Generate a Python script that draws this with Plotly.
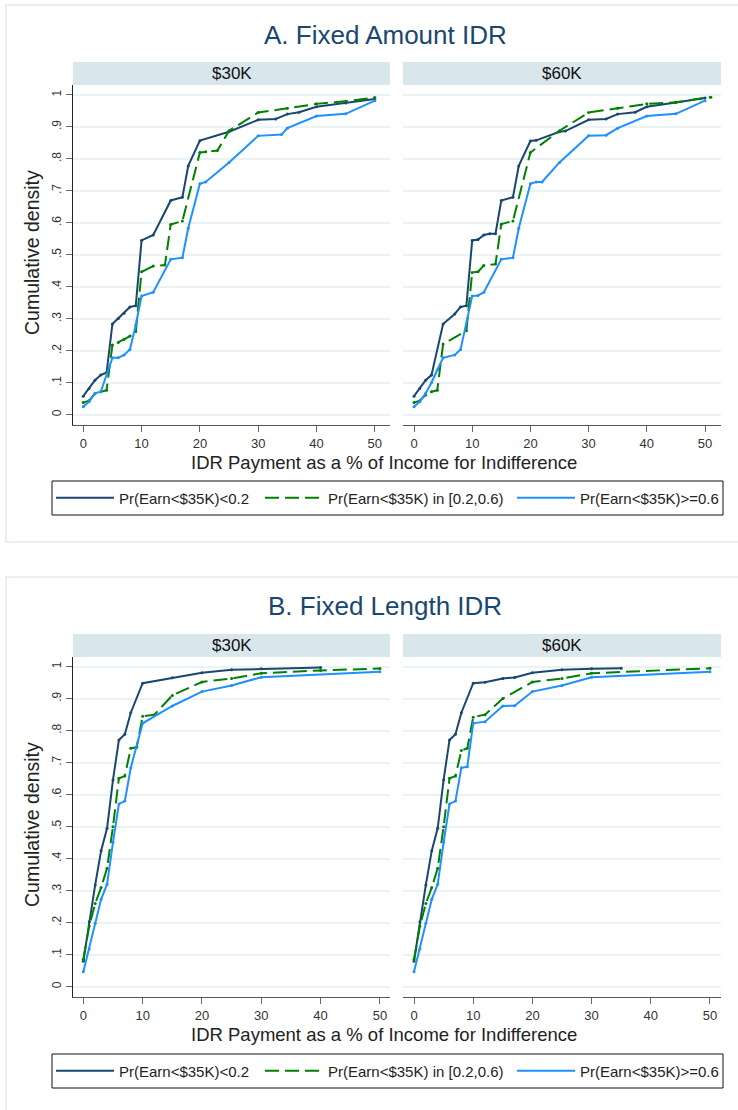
import plotly.graph_objects as go

W, H = 738, 1110

# ---------------- data ----------------
series_names = ["Pr(Earn<$35K)<0.2", "Pr(Earn<$35K) in [0.2,0.6)", "Pr(Earn<$35K)>=0.6"]
facet_labels = ["$30K", "$60K"]
panel_titles = ["A. Fixed Amount IDR", "B. Fixed Length IDR"]
y_tick_vals = [0, 0.1, 0.2, 0.3, 0.4, 0.5, 0.6, 0.7, 0.8, 0.9, 1.0]
y_tick_text = ["0", ".1", ".2", ".3", ".4", ".5", ".6", ".7", ".8", ".9", "1"]
x_tick_vals = [0, 10, 20, 30, 40, 50]

# Panel A, $30K
a30_low_x = [0, 1, 2, 3, 4, 5, 6, 7, 8, 9, 10, 12, 15, 17, 18, 20, 25, 30, 33, 35, 37, 40, 45, 50]
a30_low_y = [0.058, 0.082, 0.108, 0.124, 0.132, 0.284, 0.301, 0.317, 0.337, 0.341, 0.545, 0.562, 0.670, 0.680,
             0.778, 0.857, 0.885, 0.922, 0.925, 0.940, 0.946, 0.963, 0.975, 0.987]
a30_mid_x = [0, 1, 2, 3, 4, 5, 6, 7, 8, 9, 10, 12, 14, 15, 17, 20, 21, 23, 25, 30, 35, 40, 45, 50]
a30_mid_y = [0.038, 0.044, 0.066, 0.072, 0.077, 0.218, 0.226, 0.236, 0.246, 0.260, 0.447, 0.465, 0.468, 0.595,
             0.606, 0.820, 0.822, 0.826, 0.888, 0.945, 0.958, 0.972, 0.980, 0.992]
a30_high_x = [0, 1, 2, 3, 5, 6, 7, 8, 9, 10, 12, 15, 17, 18, 20, 21, 25, 30, 34, 35, 40, 45, 50]
a30_high_y = [0.025, 0.041, 0.067, 0.072, 0.178, 0.178, 0.187, 0.204, 0.280, 0.371, 0.383, 0.486, 0.491, 0.583,
              0.722, 0.728, 0.789, 0.872, 0.876, 0.896, 0.934, 0.941, 0.982]

# Panel A, $60K
a60_low_x = [0, 1, 2, 3, 5, 7, 8, 9, 10, 11, 12, 13, 14, 15, 17, 18, 20, 21, 25, 26, 30, 33, 35, 38, 40, 45, 50]
a60_low_y = [0.058, 0.082, 0.108, 0.124, 0.284, 0.315, 0.337, 0.341, 0.545, 0.548, 0.562, 0.566, 0.566, 0.670,
             0.680, 0.778, 0.856, 0.858, 0.885, 0.887, 0.922, 0.925, 0.940, 0.946, 0.963, 0.976, 0.990]
a60_mid_x = [0, 1, 2, 3, 4, 5, 9, 10, 11, 12, 14, 15, 17, 20, 25, 30, 35, 40, 45, 51]
a60_mid_y = [0.038, 0.044, 0.062, 0.072, 0.077, 0.221, 0.263, 0.445, 0.447, 0.467, 0.471, 0.596, 0.606, 0.820,
             0.888, 0.945, 0.958, 0.972, 0.977, 0.993]
a60_high_x = [0, 1, 2, 3, 4, 5, 7, 8, 10, 11, 12, 15, 17, 18, 20, 21, 22, 25, 30, 33, 35, 40, 45, 50]
a60_high_y = [0.025, 0.041, 0.067, 0.100, 0.140, 0.178, 0.187, 0.204, 0.371, 0.373, 0.383, 0.486, 0.491, 0.583,
              0.722, 0.728, 0.728, 0.789, 0.872, 0.874, 0.896, 0.934, 0.941, 0.982]

# Panel B, $30K
b30_low_x = [0, 1, 2, 3, 4, 5, 6, 7, 8, 10, 15, 20, 25, 30, 40]
b30_low_y = [0.080, 0.203, 0.318, 0.425, 0.495, 0.646, 0.771, 0.789, 0.856, 0.948, 0.965, 0.981, 0.990, 0.993, 0.997]
b30_mid_x = [0, 1, 2, 3, 4, 5, 6, 7, 8, 9, 10, 12, 15, 20, 25, 30, 40, 50]
b30_mid_y = [0.085, 0.190, 0.260, 0.310, 0.370, 0.500, 0.651, 0.658, 0.745, 0.748, 0.845, 0.850, 0.910, 0.952,
             0.963, 0.979, 0.988, 0.994]
b30_high_x = [0, 1, 2, 3, 4, 5, 6, 7, 8, 10, 15, 20, 25, 30, 50]
b30_high_y = [0.047, 0.118, 0.198, 0.273, 0.320, 0.451, 0.571, 0.580, 0.684, 0.823, 0.877, 0.922, 0.941, 0.967, 0.984]

# Panel B, $60K
b60_low_x = [0, 1, 2, 3, 4, 5, 6, 7, 8, 10, 12, 15, 17, 20, 25, 30, 35]
b60_low_y = [0.080, 0.203, 0.318, 0.425, 0.495, 0.646, 0.771, 0.789, 0.856, 0.948, 0.951, 0.963, 0.966, 0.981,
             0.990, 0.993, 0.995]
b60_mid_x = [0, 1, 2, 3, 4, 5, 6, 7, 8, 9, 10, 12, 15, 20, 25, 30, 50]
b60_mid_y = [0.085, 0.190, 0.260, 0.310, 0.370, 0.500, 0.651, 0.658, 0.738, 0.745, 0.842, 0.850, 0.900, 0.952,
             0.963, 0.979, 0.995]
b60_high_x = [0, 1, 2, 3, 4, 5, 6, 7, 8, 9, 10, 12, 15, 17, 20, 25, 30, 50]
b60_high_y = [0.047, 0.118, 0.198, 0.273, 0.320, 0.451, 0.571, 0.580, 0.684, 0.687, 0.823, 0.828, 0.877, 0.878,
              0.922, 0.941, 0.967, 0.984]

# ---------------- styles ----------------
COLORS = ["#1A476F", "#008000", "#1E90FF"]
DASHES = ["solid", "14px,6px", "solid"]
FONT = "Liberation Sans, Arial, Helvetica, sans-serif"
GRID = "#EAF2F3"
STRIP = "#D9E6EB"
TITLE_C = "#1A476F"


def px(x):
    return x / W


def py(y):
    return 1 - y / H


# subplot pixel boxes: (x0, x1, ytop, ybottom, xrange, yrange)
boxes = {
    "A30": (73, 390, 85, 425, [-1.76, 52.6], [-0.032, 1.031]),
    "A60": (403, 721, 85, 425, [-1.89, 52.75], [-0.032, 1.031]),
    "B30": (73, 390, 657, 997, [-1.74, 51.7], [-0.032, 1.030]),
    "B60": (403, 721, 657, 997, [-1.86, 51.86], [-0.032, 1.030]),
}
order = ["A30", "A60", "B30", "B60"]
data_map = {
    "A30": [(a30_low_x, a30_low_y), (a30_mid_x, a30_mid_y), (a30_high_x, a30_high_y)],
    "A60": [(a60_low_x, a60_low_y), (a60_mid_x, a60_mid_y), (a60_high_x, a60_high_y)],
    "B30": [(b30_low_x, b30_low_y), (b30_mid_x, b30_mid_y), (b30_high_x, b30_high_y)],
    "B60": [(b60_low_x, b60_low_y), (b60_mid_x, b60_mid_y), (b60_high_x, b60_high_y)],
}

fig = go.Figure()
layout = dict(
    width=W, height=H, margin=dict(l=0, r=0, t=0, b=0),
    paper_bgcolor="white", plot_bgcolor="white",
    font=dict(family=FONT, color="#222"),
    showlegend=True,
)

# legend entry x positions (line start, px) and y centres per panel
legend_x = [56, 265, 517]
legend_y = {"A": 498, "B": 1071}

shapes = []
annotations = []

for i, key in enumerate(order):
    x0, x1, yt, yb, xr, yr = boxes[key]
    n = i + 1
    xa = "xaxis" if n == 1 else f"xaxis{n}"
    ya = "yaxis" if n == 1 else f"yaxis{n}"
    left = key.endswith("30")
    layout[xa] = dict(
        domain=[px(x0), px(x1)], anchor=f"y{n if n > 1 else ''}", range=xr,
        tickvals=x_tick_vals, ticks="outside", ticklen=6, tickcolor="#666", tickwidth=1,
        showline=True, linecolor="#555", linewidth=1.2, showgrid=False, zeroline=False,
        tickfont=dict(size=13, color="#333", family=FONT),
    )
    layout[ya] = dict(
        domain=[py(yb), py(yt)], anchor=f"x{n if n > 1 else ''}", range=yr,
        tickvals=y_tick_vals, ticktext=y_tick_text if left else None,
        showticklabels=left, ticks="outside" if left else "", ticklen=6, tickcolor="#666",
        tickangle=-90, showline=left, linecolor="#222", linewidth=1.2,
        showgrid=True, gridcolor=GRID, gridwidth=1.5, zeroline=False,
        tickfont=dict(size=12, color="#333", family=FONT),
    )
    panel = key[0]
    xref_ = f"x{n if n > 1 else ''}"
    yref_ = f"y{n if n > 1 else ''}"
    for s, (xs, ys) in enumerate(data_map[key]):
        lg_index = s + 1 + (0 if panel == "A" else 3)
        lg = "legend" if lg_index == 1 else f"legend{lg_index}"
        fig.add_trace(go.Scatter(
            x=xs, y=ys, mode="lines", name=series_names[s],
            line=dict(color=COLORS[s], width=2, dash=DASHES[s]),
            xaxis=xref_, yaxis=yref_, showlegend=left, legend=lg,
        ))
        fig.add_trace(go.Scatter(
            x=xs, y=ys, mode="markers", name=series_names[s],
            marker=dict(size=3, color=COLORS[s]),
            xaxis=xref_, yaxis=yref_, showlegend=False, hoverinfo="skip",
        ))
    # strip
    stop = yt - 23
    shapes.append(dict(type="rect", xref="paper", yref="paper", x0=px(x0), x1=px(x1),
                       y0=py(yt), y1=py(stop), fillcolor=STRIP, line=dict(width=0), layer="below"))
    annotations.append(dict(text=facet_labels[0] if left else facet_labels[1], x=px((x0 + x1) / 2),
                            y=py((yt + stop) / 2), xref="paper", yref="paper", showarrow=False,
                            font=dict(size=17, color="#111"), xanchor="center", yanchor="middle"))

# legends
for p, panel in enumerate(["A", "B"]):
    for s in range(3):
        idx = s + 1 + 3 * p
        lg = "legend" if idx == 1 else f"legend{idx}"
        layout[lg] = dict(
            x=px(legend_x[s] - 5), y=py(legend_y[panel]), xanchor="left", yanchor="middle",
            orientation="h", bgcolor="rgba(0,0,0,0)", borderwidth=0, itemwidth=58,
            font=dict(size=15, color="#222", family=FONT), tracegroupgap=0,
        )
    ly = legend_y[panel]
    shapes.append(dict(type="rect", xref="paper", yref="paper", x0=px(52), x1=px(723),
                       y0=py(ly + 17), y1=py(ly - 17), line=dict(color="#111", width=1)))

# panel frames
shapes.append(dict(type="rect", xref="paper", yref="paper", x0=px(6), x1=px(745), y0=py(542), y1=py(5),
                   line=dict(color="#E9EFF2", width=2), layer="below"))
shapes.append(dict(type="rect", xref="paper", yref="paper", x0=px(6), x1=px(745), y0=py(1120), y1=py(577),
                   line=dict(color="#E9EFF2", width=2), layer="below"))

# titles and axis titles
for p, (ty, ytitle, xtitle) in enumerate([(35, 253, 463), (606, 825, 1034)]):
    annotations.append(dict(text=panel_titles[p], x=px(385), y=py(ty), xref="paper", yref="paper",
                            showarrow=False, font=dict(size=26, color=TITLE_C), xanchor="center",
                            yanchor="middle"))
    annotations.append(dict(text="Cumulative density", x=px(32), y=py(ytitle), xref="paper", yref="paper",
                            showarrow=False, textangle=-90, font=dict(size=19.5, color="#222"),
                            xanchor="center", yanchor="middle"))
    annotations.append(dict(text="IDR Payment as a % of Income for Indifference", x=px(384), y=py(xtitle),
                            xref="paper", yref="paper", showarrow=False, font=dict(size=18.5, color="#222"),
                            xanchor="center", yanchor="middle"))

layout["shapes"] = shapes
layout["annotations"] = annotations
fig.update_layout(**layout)
fig.write_html("out.html")
